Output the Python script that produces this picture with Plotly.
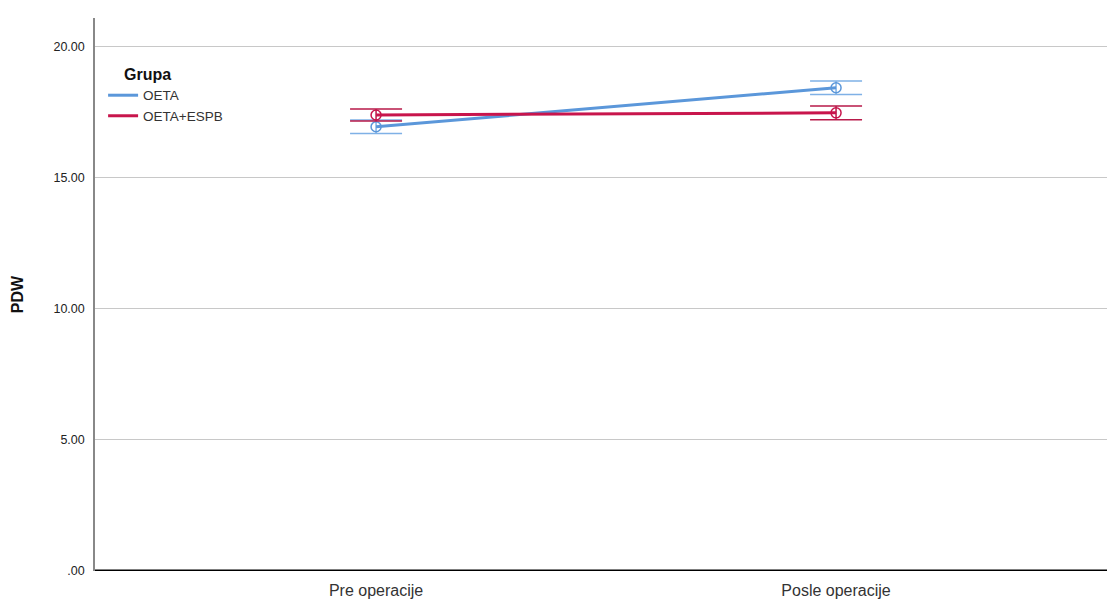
import plotly.graph_objects as go

# Estimated marginal means of PDW by time point and group
timepoints = ["Pre operacije", "Posle operacije"]
groups = ["OETA", "OETA+ESPB"]
means_oeta = [16.95, 18.44]
err_oeta = [0.26, 0.26]
means_espb = [17.40, 17.48]
err_espb = [0.23, 0.26]

line_colors = ["#5b97da", "#c8154c"]
cap_colors = ["#7fb1e6", "#b81a4a"]

x_pos = list(range(len(timepoints)))

fig = go.Figure()
for name, means, errs, lc, cc in [
    (groups[0], means_oeta, err_oeta, line_colors[0], cap_colors[0]),
    (groups[1], means_espb, err_espb, line_colors[1], cap_colors[1]),
]:
    fig.add_trace(go.Scatter(
        x=x_pos, y=means, name=name, mode="lines+markers", showlegend=False,
        line=dict(color=lc, width=3),
        marker=dict(symbol="circle-open", size=10, color=lc, line=dict(width=1.5)),
        error_y=dict(type="data", array=errs, visible=True, color=cc,
                     thickness=1.5, width=26),
    ))
    # line-only legend entry
    fig.add_trace(go.Scatter(
        x=[None], y=[None], name=name, mode="lines",
        line=dict(color=lc, width=3), showlegend=True,
    ))

fig.update_layout(
    width=1107, height=603,
    margin=dict(l=95, r=0, t=18, b=32),
    plot_bgcolor="white", paper_bgcolor="white",
    font=dict(family="Liberation Sans, Arial, sans-serif", color="#222"),
    showlegend=True,
    legend=dict(
        x=0.008, y=0.888, xanchor="left", yanchor="top",
        font=dict(size=13.5, color="#333"),
        bgcolor="rgba(0,0,0,0)", tracegroupgap=0, itemwidth=30,
    ),
    annotations=[dict(text="<b>Grupa</b>", xref="paper", yref="paper",
                      x=0.027, y=0.897, xanchor="left", yanchor="middle",
                      showarrow=False, font=dict(size=16, color="#111"))],
    xaxis=dict(
        range=[-0.611, 1.589], tickvals=x_pos, ticktext=timepoints,
        showgrid=False, zeroline=False, showline=False,
        tickfont=dict(size=16, color="#333"), ticks="", ticklabelstandoff=8,
    ),
    yaxis=dict(
        range=[0, 21.1], tickvals=[0, 5, 10, 15, 20],
        ticktext=[".00", "5.00", "10.00", "15.00", "20.00"],
        showgrid=True, gridcolor="#c8c8c8", gridwidth=1,
        zeroline=False, showline=True, linecolor="#888", linewidth=1.5,
        tickfont=dict(size=12.5, color="#222"), ticks="", ticklabelstandoff=6,
        title=dict(text="<b>PDW</b>", font=dict(size=16, color="#111"), standoff=26),
    ),
    shapes=[dict(type="line", xref="paper", yref="y", x0=0, x1=1, y0=0, y1=0,
                 line=dict(color="black", width=3))],
)

fig.write_html("out.html")
